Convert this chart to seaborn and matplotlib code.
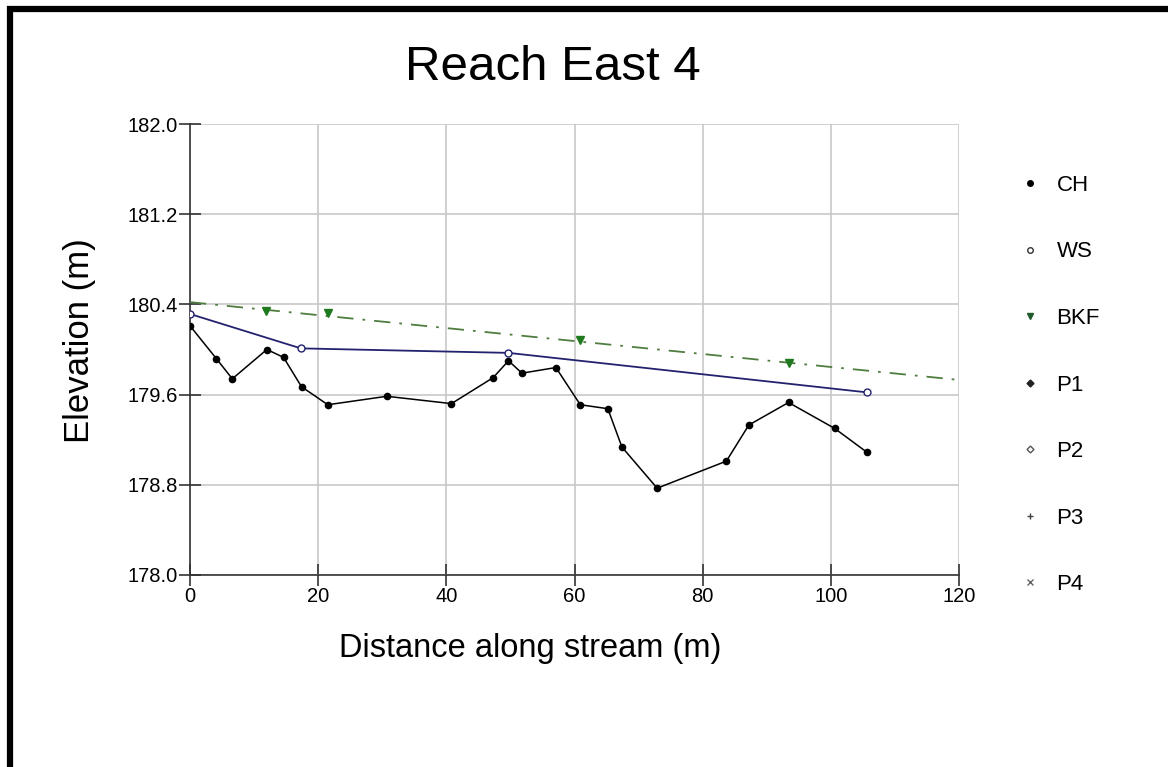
import numpy as np
import pandas as pd
import matplotlib
matplotlib.use("Agg")
import matplotlib.pyplot as plt
from matplotlib.lines import Line2D
import seaborn as sns

# Channel bed (CH) profile
ch_dist = [0, 4.1, 6.6, 12.0, 14.6, 17.4, 21.5, 30.7, 40.8, 47.3, 49.7, 51.8,
           57.1, 60.9, 65.2, 67.4, 72.9, 83.7, 87.2, 93.4, 100.6, 105.6]
ch_elev = [180.21, 179.92, 179.74, 180.00, 179.93, 179.67, 179.51, 179.585, 179.52,
           179.75, 179.90, 179.79, 179.84, 179.51, 179.475, 179.135, 178.77, 179.01,
           179.33, 179.53, 179.30, 179.09]

# Water surface (WS)
ws_dist = [0, 17.3, 49.7, 105.6]
ws_elev = [180.315, 180.01, 179.97, 179.62]

# Bankfull (BKF) points and its fitted line
bkf_dist = [11.9, 21.5, 60.9, 93.5]
bkf_elev = [180.345, 180.32, 180.08, 179.88]
bkf_line_dist = [0, 120]
bkf_line_elev = [180.42, 179.73]

x_ticks = [0, 20, 40, 60, 80, 100, 120]
y_ticks = [178.0, 178.8, 179.6, 180.4, 181.2, 182.0]
legend_labels = ['CH', 'WS', 'BKF', 'P1', 'P2', 'P3', 'P4']

sns.set_style("white")
plt.rcParams['font.family'] = ['Liberation Sans', 'DejaVu Sans']
plt.rcParams['text.color'] = 'black'
plt.rcParams['xtick.color'] = 'black'
plt.rcParams['ytick.color'] = 'black'

fig = plt.figure(figsize=(11.68, 7.67), dpi=100)
ax = fig.add_axes([190 / 1168, 1 - 575 / 767, 769 / 1168, 451 / 767])

ch = pd.DataFrame({'dist': ch_dist, 'elev': ch_elev})
ws = pd.DataFrame({'dist': ws_dist, 'elev': ws_elev})

# BKF dash-dot fit line, then markers
ax.plot(bkf_line_dist, bkf_line_elev, color='#4f7d3f', lw=1.3,
        dashes=(9, 5, 1.5, 5), zorder=3)
ax.plot(bkf_dist, bkf_elev, ls='none', marker='v', ms=6, color='#1f7a1f',
        zorder=4)

sns.lineplot(data=ws, x='dist', y='elev', ax=ax, color='#22226e', lw=1.3,
             marker='o', markersize=5, markerfacecolor='white',
             markeredgecolor='#22226e', markeredgewidth=1, sort=False,
             estimator=None, zorder=5)
sns.lineplot(data=ch, x='dist', y='elev', ax=ax, color='black', lw=1.1,
             marker='o', markersize=5.5, markeredgewidth=0, sort=False,
             estimator=None, zorder=6)

ax.set_xlim(0, 120)
ax.set_ylim(178.0, 182.0)
ax.set_xticks(x_ticks)
ax.set_yticks(y_ticks)
ax.set_yticklabels([f"{v:.1f}" for v in y_ticks])
ax.grid(True, color='#c8c8c8', lw=1.2)
for s in ['top', 'right']:
    ax.spines[s].set_visible(False)
for s in ['left', 'bottom']:
    ax.spines[s].set_color('#333333')
    ax.spines[s].set_linewidth(1.2)
ax.tick_params(axis='both', bottom=True, left=True, direction='inout',
               length=16, width=1.2, color='#333333', labelsize=14.5, pad=1)
ax.set_xlabel("")
ax.set_ylabel("")

fig.text(530 / 1168, 1 - 648 / 767, "Distance along stream (m)",
         fontsize=23.5, ha='center', va='center')
fig.text(80 / 1168, 1 - 341 / 767, "Elevation (m)", fontsize=25,
         rotation=90, ha='center', va='center')
fig.text(553 / 1168, 1 - 80 / 767, "Reach East 4", fontsize=35.5,
         ha='center', va='baseline')

# legend entries
handles = [
    Line2D([], [], ls='none', marker='o', ms=4, color='black'),
    Line2D([], [], ls='none', marker='o', ms=4, markerfacecolor='white',
           markeredgecolor='#333333'),
    Line2D([], [], ls='none', marker='v', ms=5, color='#1f5a2a'),
    Line2D([], [], ls='none', marker='D', ms=3.5, color='#222222'),
    Line2D([], [], ls='none', marker='D', ms=3.5, markerfacecolor='white',
           markeredgecolor='#555555'),
    Line2D([], [], ls='none', marker='+', ms=5, color='#444444'),
    Line2D([], [], ls='none', marker='x', ms=4, color='#666666'),
]
fig.legend(handles, legend_labels, loc='upper left',
           bbox_to_anchor=(1012 / 1168, 1 - 166 / 767), frameon=False,
           fontsize=16, labelspacing=2.05, handlelength=0.8,
           handletextpad=0.8, borderpad=0.4, borderaxespad=0)

# frame on the top and left edges
fig.add_artist(Line2D([7 / 1168, 1], [1 - 9 / 767, 1 - 9 / 767],
                      transform=fig.transFigure, color='black', lw=4.5,
                      solid_capstyle='butt'))
fig.add_artist(Line2D([10 / 1168, 10 / 1168], [0, 1 - 6 / 767],
                      transform=fig.transFigure, color='black', lw=4.5,
                      solid_capstyle='butt'))

fig.savefig("out.png", dpi=100)
